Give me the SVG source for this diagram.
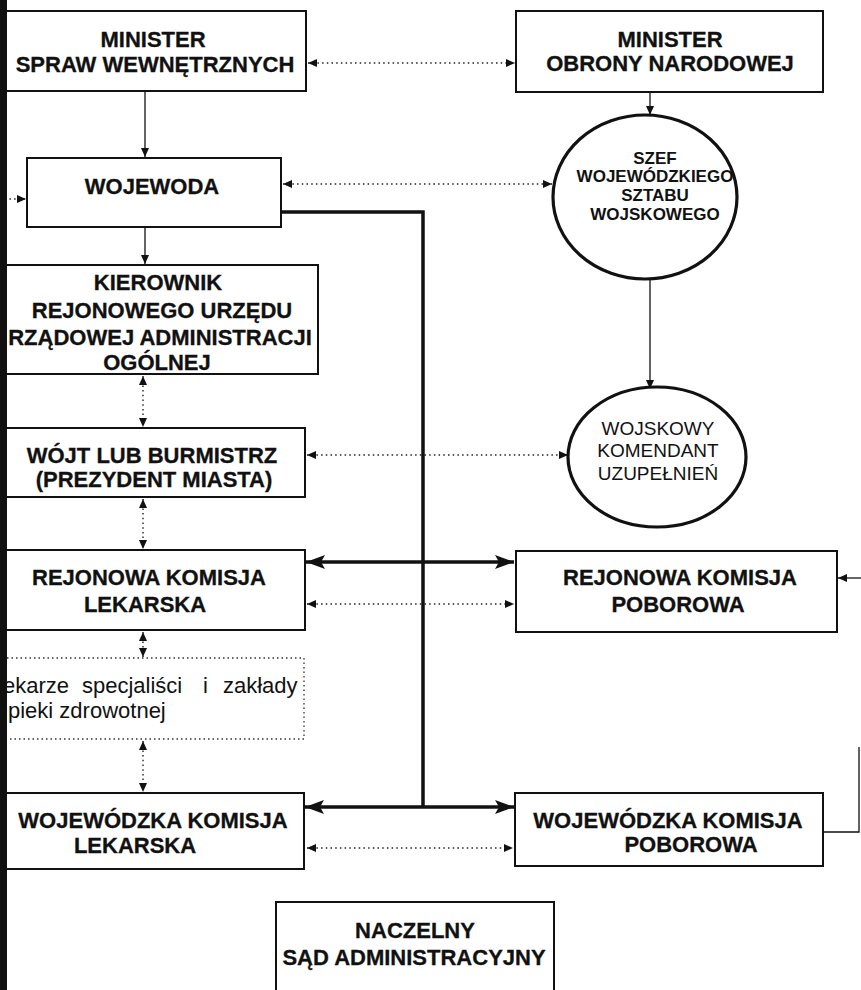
<svg xmlns="http://www.w3.org/2000/svg" width="861" height="990" viewBox="0 0 861 990">
<style>
.box{fill:#fff;stroke:#111;stroke-width:2}
.ell{fill:#fff;stroke:#111;stroke-width:3.2}
.dbox{fill:#fff;stroke:#333;stroke-width:1.3;stroke-dasharray:1.5 3}
.t{font-family:"Liberation Sans",Arial,sans-serif;font-weight:bold;font-size:22px;fill:#111;stroke:#111;stroke-width:0.3;text-anchor:middle}
.ts{font-family:"Liberation Sans",Arial,sans-serif;font-weight:bold;font-size:17px;fill:#111;text-anchor:middle}
.tr{font-family:"Liberation Sans",Arial,sans-serif;font-size:19px;fill:#111;text-anchor:middle}
.tl{font-family:"Liberation Sans",Arial,sans-serif;font-size:22px;fill:#111}
.thin{fill:none;stroke:#111;stroke-width:1.3}
.dot{fill:none;stroke:#222;stroke-width:1.4;stroke-dasharray:1.5 3.2}
.thick{fill:none;stroke:#111;stroke-width:3.5}
</style>
<defs>
<marker id="ah" markerUnits="userSpaceOnUse" markerWidth="10" markerHeight="10" refX="9" refY="5" orient="auto-start-reverse" viewBox="0 0 10 10">
<path d="M0,1 L9,5 L0,9 Z" fill="#111"/>
</marker>
<marker id="big" markerUnits="userSpaceOnUse" markerWidth="20" markerHeight="14" refX="19" refY="7" orient="auto-start-reverse" viewBox="0 0 20 14">
<path d="M0,0 L19,7 L0,14 L4,7 Z" fill="#111"/>
</marker>
</defs>
<rect width="861" height="990" fill="#fff"/>

<g id="connectors">
<line class="dot" x1="308" y1="63" x2="515" y2="63" marker-start="url(#ah)" marker-end="url(#ah)"/>
<line class="thin" x1="145" y1="91" x2="145" y2="157" marker-end="url(#ah)"/>
<line class="thin" x1="650" y1="92" x2="650" y2="115" marker-end="url(#ah)"/>
<line class="dot" x1="283" y1="184" x2="552" y2="184" marker-start="url(#ah)" marker-end="url(#ah)"/>
<line class="dot" x1="0" y1="199" x2="26" y2="199" marker-end="url(#ah)"/>
<line class="thin" x1="145" y1="227" x2="145" y2="264" marker-end="url(#ah)"/>
<line class="thin" x1="650" y1="279" x2="650" y2="389" marker-end="url(#ah)"/>
<line class="dot" x1="143" y1="376" x2="143" y2="427" marker-start="url(#ah)" marker-end="url(#ah)"/>
<line class="dot" x1="307" y1="455" x2="568" y2="455" marker-start="url(#ah)" marker-end="url(#ah)"/>
<line class="dot" x1="143" y1="499" x2="143" y2="549" marker-start="url(#ah)" marker-end="url(#ah)"/>
<polyline class="thick" points="281,212 423,212 423,807"/>
<line class="thick" x1="306" y1="562" x2="514" y2="562" marker-start="url(#big)" marker-end="url(#big)"/>
<line class="dot" x1="307" y1="604" x2="514" y2="604" marker-start="url(#ah)" marker-end="url(#ah)"/>
<line class="thin" x1="861" y1="578" x2="838" y2="578" marker-end="url(#ah)"/>
<polyline class="thin" points="823,832 859,832 859,747"/>
<line class="dot" x1="143" y1="632" x2="143" y2="657" marker-start="url(#ah)" marker-end="url(#ah)"/>
<line class="dot" x1="143" y1="741" x2="143" y2="792" marker-start="url(#ah)" marker-end="url(#ah)"/>
<line class="thick" x1="305" y1="807" x2="514" y2="807" marker-start="url(#big)" marker-end="url(#big)"/>
<line class="dot" x1="307" y1="848" x2="513" y2="848" marker-start="url(#ah)" marker-end="url(#ah)"/>
</g>

<g id="msw">
<rect class="box" x="4" y="11" width="302" height="80"/>
<text class="t" x="153" y="47">MINISTER</text>
<text class="t" x="155" y="72">SPRAW WEWNĘTRZNYCH</text>
</g>
<g id="mon">
<rect class="box" x="516" y="11" width="307" height="81"/>
<text class="t" x="670" y="47">MINISTER</text>
<text class="t" x="670" y="71">OBRONY NARODOWEJ</text>
</g>
<g id="wojewoda">
<rect class="box" x="27" y="158" width="254" height="69"/>
<text class="t" x="152" y="194">WOJEWODA</text>
</g>
<g id="szef">
<ellipse class="ell" cx="645" cy="197" rx="92" ry="82"/>
<text class="ts" x="655" y="164">SZEF</text>
<text class="ts" x="655" y="182">WOJEWÓDZKIEGO</text>
<text class="ts" x="655" y="201">SZTABU</text>
<text class="ts" x="655" y="220">WOJSKOWEGO</text>
</g>
<g id="kierownik">
<rect class="box" x="4" y="265" width="314" height="109"/>
<text class="t" x="158" y="290">KIEROWNIK</text>
<text class="t" x="162" y="318">REJONOWEGO URZĘDU</text>
<text class="t" x="160" y="345">RZĄDOWEJ ADMINISTRACJI</text>
<text class="t" x="157" y="370">OGÓLNEJ</text>
</g>
<g id="wku">
<ellipse class="ell" cx="657" cy="457" rx="89" ry="70"/>
<text class="tr" x="658" y="435">WOJSKOWY</text>
<text class="tr" x="658" y="457">KOMENDANT</text>
<text class="tr" x="658" y="480">UZUPEŁNIEŃ</text>
</g>
<g id="wojt">
<rect class="box" x="4" y="428" width="301" height="69"/>
<text class="t" x="152" y="463">WÓJT LUB BURMISTRZ</text>
<text class="t" x="154" y="487">(PREZYDENT MIASTA)</text>
</g>
<g id="rkl">
<rect class="box" x="4" y="550" width="301" height="80"/>
<text class="t" x="149" y="585">REJONOWA KOMISJA</text>
<text class="t" x="145" y="612">LEKARSKA</text>
</g>
<g id="rkp">
<rect class="box" x="516" y="551" width="321" height="81"/>
<text class="t" x="680" y="585">REJONOWA KOMISJA</text>
<text class="t" x="678" y="612">POBOROWA</text>
</g>
<g id="lekarze">
<rect class="dbox" x="-2" y="658" width="306" height="81"/>
<text class="tl" y="693"><tspan x="3">ekarze</tspan><tspan x="82">specjaliści</tspan><tspan x="203">i</tspan><tspan x="223">zakłady</tspan></text>
<text class="tl" x="8" y="718">pieki zdrowotnej</text>
</g>
<g id="wkl">
<rect class="box" x="4" y="793" width="300" height="76"/>
<text class="t" x="153" y="828">WOJEWÓDZKA KOMISJA</text>
<text class="t" x="135" y="853">LEKARSKA</text>
</g>
<g id="wkp">
<rect class="box" x="515" y="793" width="308" height="73"/>
<text class="t" x="668" y="828">WOJEWÓDZKA KOMISJA</text>
<text class="t" x="691" y="852">POBOROWA</text>
</g>
<g id="nsa">
<rect class="box" x="276" y="902" width="278" height="100"/>
<text class="t" x="415" y="938">NACZELNY</text>
<text class="t" x="414" y="965">SĄD ADMINISTRACYJNY</text>
</g>
<rect x="0" y="0" width="7" height="990" fill="#111"/>
</svg>
